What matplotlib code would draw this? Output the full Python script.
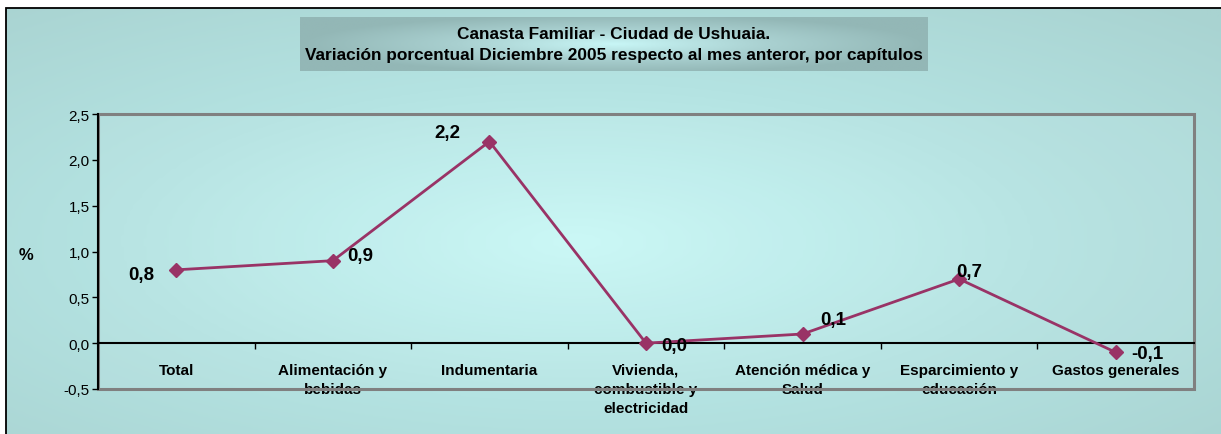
import numpy as np
import matplotlib
matplotlib.use("Agg")
import matplotlib.pyplot as plt
from matplotlib.patches import Rectangle
from matplotlib.colors import LinearSegmentedColormap

categories = ["Total", "Alimentación y\nbebidas", "Indumentaria",
              "Vivienda,\ncombustible y\nelectricidad", "Atención médica y\nSalud",
              "Esparcimiento y\neducación", "Gastos generales"]
values = [0.8, 0.9, 2.2, 0.0, 0.1, 0.7, -0.1]
value_labels = ["0,8", "0,9", "2,2", "0,0", "0,1", "0,7", "-0,1"]
yticks = [-0.5, 0.0, 0.5, 1.0, 1.5, 2.0, 2.5]
title = ("Canasta Familiar - Ciudad de Ushuaia.\n"
         "Variación porcentual Diciembre 2005 respecto al mes anteror, por capítulos")

plt.rcParams['font.family'] = ['Liberation Sans', 'DejaVu Sans']

W, H = 1221, 435
fig = plt.figure(figsize=(W / 100, H / 100), dpi=100)
fig.patch.set_facecolor("white")

def fx(px):
    return px / W

def fy(py):
    return 1 - py / H

# background radial gradient inside the outer frame
bg = fig.add_axes([fx(6), 0, 1 - fx(6), fy(9)], zorder=0)
bg.set_axis_off()
nx, ny = 400, 150
xx, yy = np.meshgrid(np.linspace(0, 1, nx), np.linspace(0, 1, ny))
r = np.sqrt(((xx - 0.47) / 0.75) ** 2 + ((yy - 0.55) / 0.75) ** 2)
r = np.clip(r, 0, 1)
cmap_bg = LinearSegmentedColormap.from_list("bg", ["#c8f8f6", "#b4e3e2", "#a9d3d1"])
bg.imshow(r, cmap=cmap_bg, aspect="auto", extent=[0, 1, 0, 1], vmin=0, vmax=1, interpolation="bilinear")
bg.set_xlim(0, 1)
bg.set_ylim(0, 1)

# outer frame (left/top visible)
fig.patches.append(Rectangle((fx(6), -0.5), 2, fy(9) + 0.5, transform=fig.transFigure,
                             fill=False, edgecolor="black", linewidth=1.3, zorder=1))

# title box with gradient
tb = fig.add_axes([fx(300), fy(72), fx(928) - fx(300), fy(18) - fy(72)], zorder=2)
tb.set_axis_off()
tx, ty = np.meshgrid(np.linspace(-1, 1, 300), np.linspace(-1, 1, 40))
tr = np.clip(np.sqrt(((tx - 0.0) / 1.0) ** 2 + (ty / 1.1) ** 2), 0, 1)
cmap_t = LinearSegmentedColormap.from_list("tb", ["#c8f6f6", "#a9d0d0", "#93b7b6"])
tb.imshow(tr, cmap=cmap_t, aspect="auto", extent=[0, 1, 0, 1], vmin=0, vmax=1, interpolation="bilinear")
tb.set_xlim(0, 1)
tb.set_ylim(0, 1)
tb.text(0.5, 0.5, title, ha="center", va="center", fontsize=12.4, fontweight="bold",
        linespacing=1.58, color="black", transform=tb.transAxes)

# main axes
ax = fig.add_axes([fx(98), fy(390), fx(1194) - fx(98), fy(115) - fy(390)], zorder=3)
ax.patch.set_facecolor("white")
ax.patch.set_alpha(0.06)

x = np.arange(len(categories))
ax.plot(x, values, color="#993366", linewidth=2, marker="D", markersize=7.5,
        markeredgecolor="#993366", markerfacecolor="#993366", zorder=5, clip_on=False)

ax.set_xlim(-0.5, len(categories) - 0.5)
ax.set_ylim(-0.5, 2.5)

# plot-area border
ax.add_patch(Rectangle((0, 0), 1, 1, transform=ax.transAxes, fill=False,
                       edgecolor="#808080", linewidth=2.2, clip_on=False, zorder=2))

for s in ["top", "right"]:
    ax.spines[s].set_visible(False)
ax.spines["left"].set_color("black")
ax.spines["left"].set_linewidth(1.5)
ax.spines["left"].set_zorder(4)
ax.spines["bottom"].set_position(("data", 0))
ax.spines["bottom"].set_color("black")
ax.spines["bottom"].set_linewidth(1.5)
ax.spines["bottom"].set_zorder(4)

ax.set_yticks(yticks)
ax.set_yticklabels([f"{v:.1f}".replace(".", ",") for v in yticks], fontsize=11)
ax.tick_params(axis="y", direction="out", length=4, width=1, color="black", pad=2)

ax.set_xticks(x)
ax.set_xticklabels(categories, fontsize=11, fontweight="bold", linespacing=1.45)
ax.tick_params(axis="x", which="major", length=0, pad=14)
ax.set_xticks(np.arange(-0.5, len(categories), 1.0)[1:], minor=True)
ax.tick_params(axis="x", which="minor", direction="out", length=4, width=1, color="black")

offsets = [(-35, -5, "center", "center"),
           (14, 5, "left", "center"),
           (-42, 9, "center", "center"),
           (15, -2, "left", "center"),
           (18, 14, "left", "center"),
           (10, 8, "center", "center"),
           (16, -1, "left", "center")]
for xi, v, lab, (dx, dy, ha, va) in zip(x, values, value_labels, offsets):
    ax.annotate(lab, (xi, v), xytext=(dx, dy), textcoords="offset pixels",
                ha=ha, va=va, fontsize=13.5, fontweight="bold", color="black",
                zorder=6, annotation_clip=False)

fig.text(fx(26), fy(256), "%", ha="center", va="center", fontsize=12, fontweight="bold")

fig.savefig("out.png", dpi=100)
